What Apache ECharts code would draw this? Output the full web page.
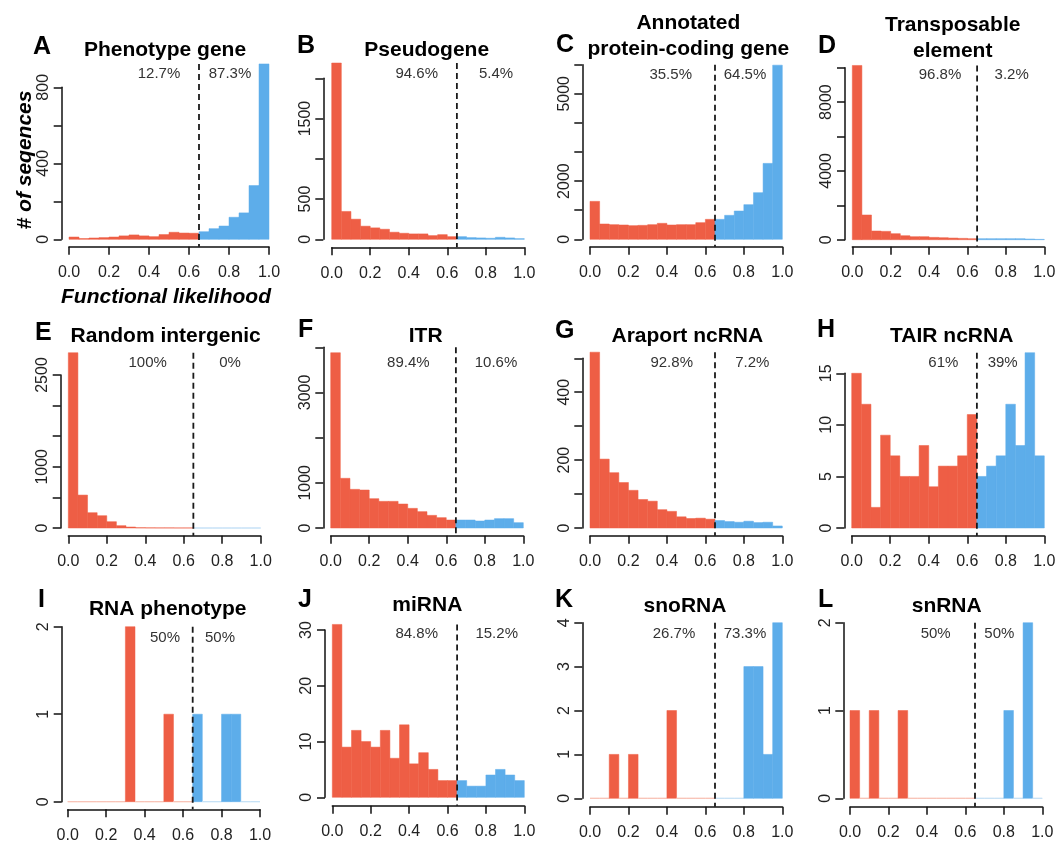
<!DOCTYPE html>
<html><head><meta charset="utf-8">
<script src="https://cdn.jsdelivr.net/npm/echarts@6/dist/echarts.min.js"></script>
<style>html,body{margin:0;padding:0;background:#fff}#c{width:1062px;height:850px}</style>
</head><body><div id="c"></div>
<script>
// ---------- DATA ----------
const binEdges = [0.00,0.05,0.10,0.15,0.20,0.25,0.30,0.35,0.40,0.45,0.50,0.55,0.60,0.65,0.70,0.75,0.80,0.85,0.90,0.95,1.00];
const cutoff = 0.65;
const panelLetters = ['A','B','C','D','E','F','G','H','I','J','K','L'];
const panelTitles = ['Phenotype gene','Pseudogene','Annotated\nprotein-coding gene','Transposable\nelement',
  'Random intergenic','ITR','Araport ncRNA','TAIR ncRNA','RNA phenotype','miRNA','snoRNA','snRNA'];
const pctBelow = ['12.7%','94.6%','35.5%','96.8%','100%','89.4%','92.8%','61%','50%','84.8%','26.7%','50%'];
const pctAbove = ['87.3%','5.4%','64.5%','3.2%','0%','10.6%','7.2%','39%','50%','15.2%','73.3%','50%'];

const countsA = [12,4,7,9,12,18,23,18,14,25,37,33,32, 40,56,70,116,139,283,923];
const countsB = [2190,346,250,163,142,125,88,75,67,67,46,58,33, 33,21,17,13,25,17,8];
const countsC = [1304,526,503,492,469,480,503,549,492,503,503,572,686, 686,824,972,1190,1602,2609,5984];
const countsD = [10130,1437,505,485,350,233,175,175,136,117,97,78,58, 58,58,58,58,58,40,20];
const countsE = [2864,538,250,201,103,38,16,5,3,2,2,1,1, 0,0,0,0,0,0,0];
const countsF = [3880,1100,856,841,649,590,590,531,435,362,280,229,177, 177,177,155,177,207,207,118];
const countsG = [518,203,163,134,111,84,79,54,49,33,28,29,26, 22,19,17,20,16,17,6];
const countsH = [15,12,2,9,7,5,5,8,4,6,6,7,11, 5,6,7,12,8,17,7];
const countsI = [0,0,0,0,0,0,2,0,0,0,1,0,0, 1,0,0,1,1,0,0];
const countsJ = [31,9,12,10,9,12,7,13,6,8,5,3,3, 3,2,2,4,5,4,3];
const countsK = [0,0,1,0,1,0,0,0,2,0,0,0,0, 0,0,0,3,3,1,4];
const countsL = [1,0,1,0,0,1,0,0,0,0,0,0,0, 0,0,0,1,0,2,0];
const allCounts = [countsA,countsB,countsC,countsD,countsE,countsF,countsG,countsH,countsI,countsJ,countsK,countsL];

const xTicks = [0.0,0.2,0.4,0.6,0.8,1.0];
const yMaxTick = [800,2000,6000,10000,2500,4000,500,15,2,30,4,2];
const yTickStep = [200,500,1000,2000,500,1000,100,5,1,10,1,1];
const yTickLabelsA = [0,400,800];
const yTickLabelsB = [0,500,1500];
const yTickLabelsC = [0,2000,5000];
const yTickLabelsD = [0,4000,8000];
const yTickLabelsE = [0,1000,2500];
const yTickLabelsF = [0,1000,3000];
const yTickLabelsG = [0,200,400];
const yTickLabelsH = [0,5,10,15];
const yTickLabelsI = [0,1,2];
const yTickLabelsJ = [0,10,20,30];
const yTickLabelsK = [0,1,2,3,4];
const yTickLabelsL = [0,1,2];
const allYLabels = [yTickLabelsA,yTickLabelsB,yTickLabelsC,yTickLabelsD,yTickLabelsE,yTickLabelsF,
  yTickLabelsG,yTickLabelsH,yTickLabelsI,yTickLabelsJ,yTickLabelsK,yTickLabelsL];

// ---------- LAYOUT (pixels) ----------
const layout = [
 {x0:69,   x1:269,    zero:239.3, topPx:87.3,  yAx:61.7,  xAx:246.7, tx:165,   ty:50,   lx:33,  ly:48,  p1:159,   p2:230,    py:74.3},
 {x0:331.7,x1:524.3,  zero:239.3, topPx:78.3,  yAx:323.3, xAx:247.3, tx:426.7, ty:50,   lx:297, ly:47,  p1:416.7, p2:496,    py:74.3},
 {x0:590,  x1:782.3,  zero:239.3, topPx:64.7,  yAx:582.3, xAx:246.7, tx:688.3, ty:36.3, lx:556, ly:46,  p1:670.7, p2:745,    py:75},
 {x0:852.3,x1:1044.3, zero:239.7, topPx:67.7,  yAx:845,   xAx:246.7, tx:952.7, ty:38,   lx:818, ly:47,  p1:940,   p2:1011.7, py:75},
 {x0:68.3, x1:260.7,  zero:528,   topPx:375,   yAx:60.7,  xAx:535.7, tx:165.7, ty:336,  lx:35,  ly:334, p1:147.7, p2:230,    py:362.7},
 {x0:330.7,x1:523.3,  zero:528,   topPx:347.3, yAx:323.3, xAx:535.7, tx:425.7, ty:336,  lx:298, ly:331, p1:408.3, p2:496,    py:362.7},
 {x0:590,  x1:782.3,  zero:528,   topPx:358.3, yAx:582.3, xAx:535.7, tx:687.3, ty:336,  lx:555, ly:332, p1:671.7, p2:752.3,  py:363.3},
 {x0:851.7,x1:1044.3, zero:528,   topPx:373.3, yAx:844.3, xAx:535.7, tx:951.7, ty:336,  lx:817, ly:331, p1:943.3, p2:1002.7, py:362.7},
 {x0:67.7, x1:260,    zero:801.7, topPx:626.7, yAx:61.7,  xAx:809.3, tx:167.7, ty:609.3,lx:38,  ly:601, p1:165,   p2:220,    py:638.3},
 {x0:332.3,x1:524.3,  zero:797.3, topPx:630,   yAx:325,   xAx:805.7, tx:427.3, ty:605,  lx:298, ly:601, p1:416.7, p2:496.7,  py:634.3},
 {x0:590,  x1:782.3,  zero:798.3, topPx:622.7, yAx:582.3, xAx:806.7, tx:685,   ty:606,  lx:555, ly:601, p1:674,   p2:745,    py:634.3},
 {x0:850,  x1:1042.3, zero:798.3, topPx:622.7, yAx:843.3, xAx:806.7, tx:946.7, ty:606,  lx:818, ly:601, p1:935.7, p2:999.3,  py:634.3}
];

const RED = '#EE5E45', RED_EDGE = '#F8C2B6';
const BLUE = '#5DADEA', BLUE_EDGE = '#C6E1F6';
const FONT = '"Liberation Sans", Arial, Helvetica, sans-serif';

const grids = [], xAxes = [], yAxes = [], series = [], graphics = [];

allCounts.forEach((counts, i) => {
  const L = layout[i];
  grids.push({left: L.x0, width: L.x1 - L.x0, top: L.topPx, height: L.zero - L.topPx, containLabel: false});
  xAxes.push({
    gridIndex: i, type: 'value', min: 0, max: 1, interval: 0.2,
    offset: L.xAx - L.zero,
    axisLine: {show: true, onZero: false, lineStyle: {color: '#111', width: 1.5}},
    axisTick: {show: true, length: 8, lineStyle: {color: '#111', width: 1.5}},
    axisLabel: {show: true, margin: 18, fontSize: 16, color: '#222', fontFamily: FONT,
      formatter: v => v.toFixed(1)},
    splitLine: {show: false}
  });
  const labs = allYLabels[i];
  yAxes.push({
    gridIndex: i, type: 'value', min: 0, max: yMaxTick[i], interval: yTickStep[i],
    offset: L.x0 - L.yAx,
    axisLine: {show: true, onZero: false, lineStyle: {color: '#111', width: 1.5}},
    axisTick: {show: true, length: 8, lineStyle: {color: '#111', width: 1.5}},
    axisLabel: {show: true, rotate: 90, margin: 10, fontSize: 16, color: '#222', fontFamily: FONT,
      formatter: v => (labs.indexOf(v) >= 0 ? String(v) : '')},
    splitLine: {show: false}
  });
  const barData = counts.map((c, k) => [binEdges[k], binEdges[k+1], c]);
  series.push({
    type: 'custom', xAxisIndex: i, yAxisIndex: i, clip: false, silent: true,
    data: barData, encode: {x: [0, 1], y: 2},
    renderItem: (params, api) => {
      const a = api.coord([api.value(0), api.value(2)]);
      const b = api.coord([api.value(1), 0]);
      const isBlue = api.value(0) >= cutoff - 1e-9;
      const zeroBar = api.value(2) === 0;
      const fill = isBlue ? BLUE : RED;
      return {type: 'rect', shape: {x: a[0], y: a[1], width: b[0] - a[0], height: b[1] - a[1]},
        style: {fill: fill, stroke: zeroBar ? (isBlue ? BLUE_EDGE : RED_EDGE) : fill, lineWidth: zeroBar ? 1 : 0.5}};
    }
  });
  const topVal = Math.max(yMaxTick[i], Math.max.apply(null, counts));
  const xOff = L.xAx - L.zero;
  series.push({
    type: 'custom', xAxisIndex: i, yAxisIndex: i, clip: false, silent: true, z: 5,
    data: [[cutoff, topVal]], encode: {x: 0, y: 1},
    renderItem: (params, api) => {
      const t = api.coord([api.value(0), api.value(1)]);
      const b = api.coord([api.value(0), 0]);
      return {type: 'line', shape: {x1: t[0], y1: t[1], x2: b[0], y2: b[1] + xOff},
        style: {stroke: '#1a1a1a', lineWidth: 1.8, lineDash: [6, 4]}};
    }
  });
  graphics.push({type: 'text', left: L.lx, top: L.ly - 13,
    style: {text: panelLetters[i], font: 'bold 25px ' + FONT, fill: '#000'}});
  graphics.push({type: 'text', x: L.tx, y: L.ty,
    style: {text: panelTitles[i], font: 'bold 21px ' + FONT, fill: '#000', align: 'center',
      verticalAlign: 'middle', lineHeight: 26}});
  graphics.push({type: 'text', x: L.p1, y: L.py,
    style: {text: pctBelow[i], font: '15px ' + FONT, fill: '#333', align: 'center', verticalAlign: 'middle'}});
  graphics.push({type: 'text', x: L.p2, y: L.py,
    style: {text: pctAbove[i], font: '15px ' + FONT, fill: '#333', align: 'center', verticalAlign: 'middle'}});
});

graphics.push({type: 'text', x: 25, y: 160, rotation: Math.PI / 2,
  style: {text: '# of seqences', font: 'italic bold 21px ' + FONT, fill: '#000', align: 'center', verticalAlign: 'middle'}});
graphics.push({type: 'text', x: 166, y: 297,
  style: {text: 'Functional likelihood', font: 'italic bold 21px ' + FONT, fill: '#000', align: 'center', verticalAlign: 'middle'}});

const chart = echarts.init(document.getElementById('c'), null, {renderer: 'canvas'});
chart.setOption({
  animation: false,
  backgroundColor: '#fff',
  grid: grids, xAxis: xAxes, yAxis: yAxes, series: series, graphic: graphics
});
</script></body></html>
